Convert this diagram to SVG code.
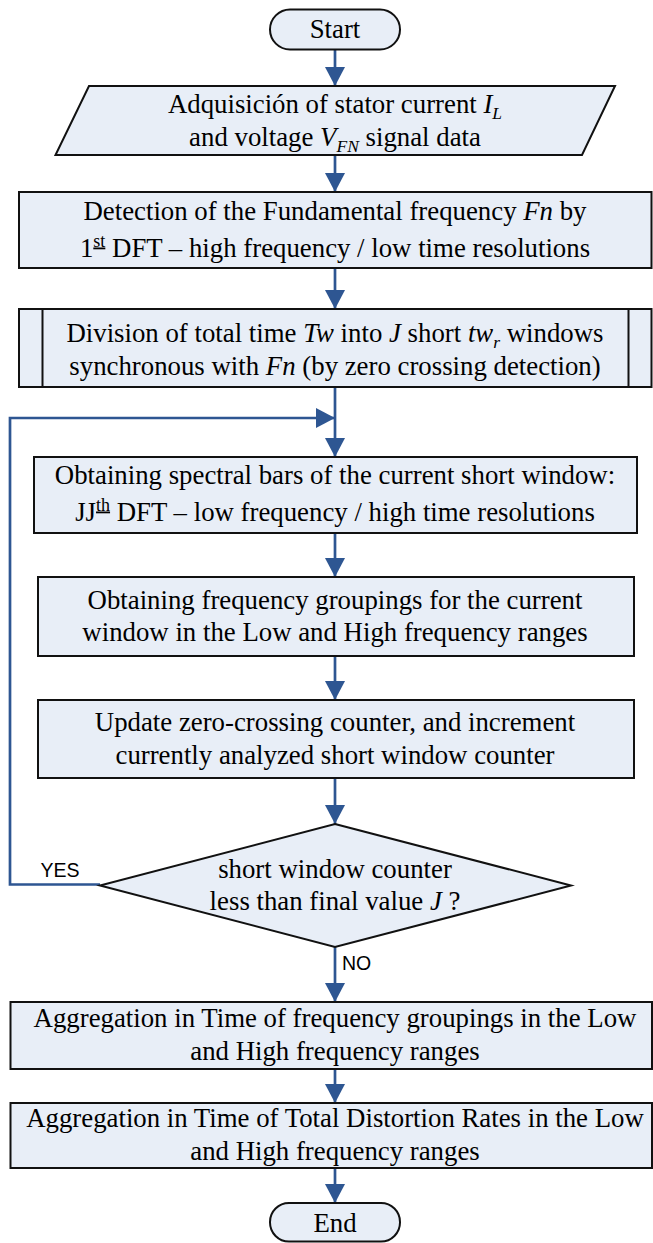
<svg xmlns="http://www.w3.org/2000/svg" width="653" height="1243" viewBox="0 0 653 1243">
<style>
.box{fill:#e8eef7;stroke:#111;stroke-width:2}
.t{font-family:"Liberation Serif","Times New Roman",serif;font-size:26.8px;fill:#000;text-anchor:middle}
.i{font-style:italic}
.sub{font-size:17.5px;font-style:italic}
.sup{font-size:18px;text-decoration:underline}
.lbl{font-family:"Liberation Sans",Arial,sans-serif;font-size:19.5px;fill:#000}
.c{stroke:#2e5692;stroke-width:2.7;fill:none}
</style>
<defs>
<marker id="ah" markerUnits="userSpaceOnUse" markerWidth="20" markerHeight="20" refX="19" refY="10" orient="auto">
<path d="M0,0 L19,10 L0,20 Z" fill="#2e5692"/>
</marker>
</defs>
<g id="connectors">
<line class="c" x1="335" y1="49" x2="335" y2="86" marker-end="url(#ah)"/>
<line class="c" x1="335" y1="155" x2="335" y2="192" marker-end="url(#ah)"/>
<line class="c" x1="335" y1="268" x2="335" y2="309" marker-end="url(#ah)"/>
<line class="c" x1="335" y1="387" x2="335" y2="457" marker-end="url(#ah)"/>
<line class="c" x1="335" y1="533" x2="335" y2="577" marker-end="url(#ah)"/>
<line class="c" x1="335" y1="656" x2="335" y2="700" marker-end="url(#ah)"/>
<line class="c" x1="335" y1="778" x2="335" y2="824" marker-end="url(#ah)"/>
<line class="c" x1="335" y1="947" x2="335" y2="1002" marker-end="url(#ah)"/>
<line class="c" x1="335" y1="1069" x2="335" y2="1103" marker-end="url(#ah)"/>
<line class="c" x1="335" y1="1168" x2="335" y2="1203" marker-end="url(#ah)"/>
<polyline class="c" points="100,884.5 10,884.5 10,418 335,418" marker-end="url(#ah)"/>
<text class="lbl" x="40.5" y="877">YES</text>
<text class="lbl" x="342" y="970">NO</text>
</g>
<g id="start">
<rect class="box" x="270" y="9.5" width="130" height="40" rx="20"/>
<text class="t" x="335" y="37.5">Start</text>
</g>
<g id="acquisition">
<polygon class="box" points="89,86 615,86 582,155 55.5,155"/>
<text class="t" x="335" y="113">Adquisición of stator current <tspan class="i">I</tspan><tspan class="sub" dy="6">L</tspan></text>
<text class="t" x="335" y="145.5">and voltage <tspan class="i">V</tspan><tspan class="sub" dy="6">FN</tspan><tspan dy="-6"> signal data</tspan></text>
</g>
<g id="detection">
<rect class="box" x="19" y="192" width="632.5" height="76"/>
<text class="t" x="335" y="219.5">Detection of the Fundamental frequency <tspan class="i">Fn</tspan> by</text>
<text class="t" x="335" y="256.5">1<tspan class="sup" dy="-10">st</tspan><tspan dy="10"> DFT – high frequency / low time resolutions</tspan></text>
</g>
<g id="division">
<rect class="box" x="19" y="309" width="632.5" height="78"/>
<line x1="42.5" y1="309" x2="42.5" y2="387" stroke="#111" stroke-width="2"/>
<line x1="628.5" y1="309" x2="628.5" y2="387" stroke="#111" stroke-width="2"/>
<text class="t" x="335" y="342">Division of total time <tspan class="i">Tw</tspan> into <tspan class="i">J</tspan> short <tspan class="i">tw</tspan><tspan class="sub" dy="6">r</tspan><tspan dy="-6"> windows</tspan></text>
<text class="t" x="335" y="375">synchronous with <tspan class="i">Fn</tspan> (by zero crossing detection)</text>
</g>
<g id="spectral">
<rect class="box" x="34" y="457" width="603" height="76"/>
<text class="t" x="335" y="483.5">Obtaining spectral bars of the current short window:</text>
<text class="t" x="335" y="520.5">JJ<tspan class="sup" dy="-10">th</tspan><tspan dy="10"> DFT – low frequency / high time resolutions</tspan></text>
</g>
<g id="groupings">
<rect class="box" x="38" y="577" width="596" height="79"/>
<text class="t" x="335" y="608.5">Obtaining frequency groupings for the current</text>
<text class="t" x="335" y="640.5">window in the Low and High frequency ranges</text>
</g>
<g id="update">
<rect class="box" x="38" y="700" width="596" height="78"/>
<text class="t" x="335" y="731">Update zero-crossing counter, and increment</text>
<text class="t" x="335" y="763.5">currently analyzed short window counter</text>
</g>
<g id="decision">
<polygon class="box" points="335,824 571,885.5 335,947 100,885.5"/>
<text class="t" x="335" y="878">short window counter</text>
<text class="t" x="335" y="909.5">less than final value <tspan class="i">J</tspan> ?</text>
</g>
<g id="aggregation1">
<rect class="box" x="10.5" y="1002" width="641.5" height="67"/>
<text class="t" x="335" y="1027">Aggregation in Time of frequency groupings in the Low</text>
<text class="t" x="335" y="1060">and High frequency ranges</text>
</g>
<g id="aggregation2">
<rect class="box" x="10.5" y="1103" width="641.5" height="65"/>
<text class="t" x="335" y="1127">Aggregation in Time of Total Distortion Rates in the Low</text>
<text class="t" x="335" y="1160">and High frequency ranges</text>
</g>
<g id="end">
<rect class="box" x="270" y="1203" width="130" height="38.5" rx="19"/>
<text class="t" x="335" y="1232">End</text>
</g>
</svg>
